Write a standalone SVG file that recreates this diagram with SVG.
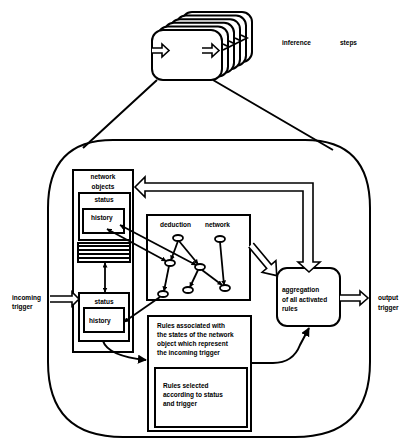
<svg xmlns="http://www.w3.org/2000/svg" width="404" height="439" viewBox="0 0 404 439">
<defs>
<marker id="ah" viewBox="0 0 10 10" refX="9" refY="5" markerWidth="5" markerHeight="5" orient="auto-start-reverse" markerUnits="userSpaceOnUse">
<path d="M0,0 L10,5 L0,10 Z" fill="#000"/>
</marker>
<marker id="ahb" viewBox="0 0 10 10" refX="9" refY="5" markerWidth="9" markerHeight="9" orient="auto-start-reverse" markerUnits="userSpaceOnUse">
<path d="M0,0 L10,5 L0,10 Z" fill="#000"/>
</marker>
<style>
.o{fill:#fff;stroke:#000;stroke-width:2}
.n{fill:none;stroke:#000;stroke-width:2}
.l{fill:none;stroke:#000;stroke-width:1.8}
.h{fill:#fff;stroke:#000;stroke-width:1.6;stroke-linejoin:miter}
.e{fill:#fff;stroke:#000;stroke-width:1.8}
text{font-family:"Liberation Sans",Arial,sans-serif;font-weight:bold;font-size:6.5px;fill:#000}
</style>
</defs>
<rect width="404" height="439" fill="#fff"/>

<g id="inference-steps">
<rect class="o" x="182" y="12" width="70" height="50" rx="10"/>
<rect class="o" x="176" y="15.6" width="70" height="50" rx="10"/>
<rect class="o" x="170" y="19.2" width="70" height="50" rx="10"/>
<rect class="o" x="164" y="22.8" width="70" height="50" rx="10"/>
<rect class="o" x="158" y="26.4" width="70" height="50" rx="10"/>
<rect class="o" x="152" y="30" width="70" height="50" rx="11"/>
<path class="h" d="M152,48 H162 V44 L169,50.5 L162,57 V53 H152"/>
<path class="h" d="M202,48 H212 V44 L219,50.5 L212,57 V53 H202"/>
<path class="l" d="M223,44 L229,47 L223,50 M229,41 L235,44 L229,47 M235,38 L241,41 L235,44 M241,35 L247,38 L241,41" stroke-width="1.4"/>
<text x="282" y="45">inference</text>
<text x="340" y="45">steps</text>
</g>

<g id="outline">
<path class="n" d="M157,80 L83,148 M213,80 L333,150"/>
<path class="n" d="M113,140 L305,140 Q370,140 370,208 L370,362 Q370,437 295,437 L123,437 Q48,437 48,362 L48,208 Q48,140 113,140 Z"/>
</g>

<g id="network-objects">
<rect class="o" x="73" y="170" width="60" height="182"/>
<text x="103" y="179" text-anchor="middle">network</text>
<text x="103" y="189" text-anchor="middle">objects</text>
</g>

<g id="status-upper">
<rect class="o" x="79" y="193" width="51" height="47"/>
<text x="104" y="202" text-anchor="middle">status</text>
<rect class="o" x="83" y="209" width="41" height="24"/>
<text x="91" y="220">history</text>
</g>

<g id="stack">
<rect class="o" x="78" y="243" width="52" height="19"/>
<path class="n" d="M78,246 H130 M78,250 H130 M78,254 H130 M78,258 H130" stroke-width="2.2"/>
</g>

<g id="status-lower">
<rect class="o" x="79" y="293" width="50" height="48"/>
<text x="104" y="304" text-anchor="middle">status</text>
<rect class="o" x="84" y="308" width="40" height="24"/>
<text x="89" y="323">history</text>
</g>

<g id="deduction-network">
<rect class="o" x="147" y="215" width="103" height="85"/>
<text x="160" y="227">deduction</text>
<text x="205" y="227">network</text>
</g>

<g id="aggregation">
<rect class="o" x="277" y="268" width="63" height="58" rx="10"/>
<text x="282" y="292">aggregation</text>
<text x="282" y="302">of all activated</text>
<text x="282" y="311">rules</text>
</g>

<g id="rules">
<rect class="o" x="148" y="316" width="103" height="115"/>
<text x="157" y="328">Rules associated with</text>
<text x="157" y="337">the states of the network</text>
<text x="157" y="346">object which represent</text>
<text x="157" y="355">the incoming trigger</text>
<rect class="o" x="155" y="368" width="92" height="59"/>
<text x="163" y="388">Rules selected</text>
<text x="163" y="397">according to status</text>
<text x="163" y="406">and trigger</text>
</g>

<g id="labels">
<text x="12" y="300">incoming</text>
<text x="12" y="309">trigger</text>
<text x="378" y="300">output</text>
<text x="378" y="310">trigger</text>
</g>

<g id="connectors">
<path class="l" d="M178,241 L171,260" marker-end="url(#ah)"/>
<path class="l" d="M179,241 L198,264" marker-end="url(#ah)"/>
<path class="l" d="M169,266 L164,291" marker-end="url(#ah)"/>
<path class="l" d="M198,270 L190,287" marker-end="url(#ah)"/>
<path class="l" d="M202,270 L222,285" marker-end="url(#ah)"/>
<path class="l" d="M220,242 L224,285" marker-end="url(#ah)"/>
<path class="l" d="M107,229 L166,261" marker-start="url(#ah)" marker-end="url(#ah)"/>
<path class="l" d="M120,225 L196,265" marker-start="url(#ah)" marker-end="url(#ah)"/>
<path class="l" d="M160,297 L124,322" marker-end="url(#ah)"/>
<path class="l" d="M105,263 L105,292" marker-start="url(#ah)" marker-end="url(#ah)"/>
<path class="n" d="M103,341 Q108,356 146,360" marker-end="url(#ahb)"/>
<path class="n" d="M251,363 H273 Q293,363 300,345 L309,328" marker-end="url(#ahb)"/>
<path class="h" d="M50,296 H72 V292 L79,299 L72,306 V302 H50"/>
<path class="h" d="M340,295 H360 V291 L368,298 L360,305 V301 H340"/>
<path class="h" d="M135,187 L145,177 V183 H313 V262 H320 L309,272 L298,262 H303 V191 H145 V197 Z"/>
<path class="h" transform="translate(251,245) rotate(50)" d="M0,-3 H28 V-9 L40,0 L28,9 V3 H0"/>
</g>

<g id="nodes">
<ellipse class="e" cx="178" cy="238" rx="5" ry="3"/>
<ellipse class="e" cx="220" cy="239" rx="5" ry="3"/>
<ellipse class="e" cx="170" cy="263" rx="5" ry="3"/>
<ellipse class="e" cx="200" cy="267" rx="5" ry="3"/>
<ellipse class="e" cx="163" cy="294" rx="5" ry="3"/>
<ellipse class="e" cx="188" cy="290" rx="5" ry="3"/>
<ellipse class="e" cx="225" cy="288" rx="5" ry="3"/>
</g>
</svg>
